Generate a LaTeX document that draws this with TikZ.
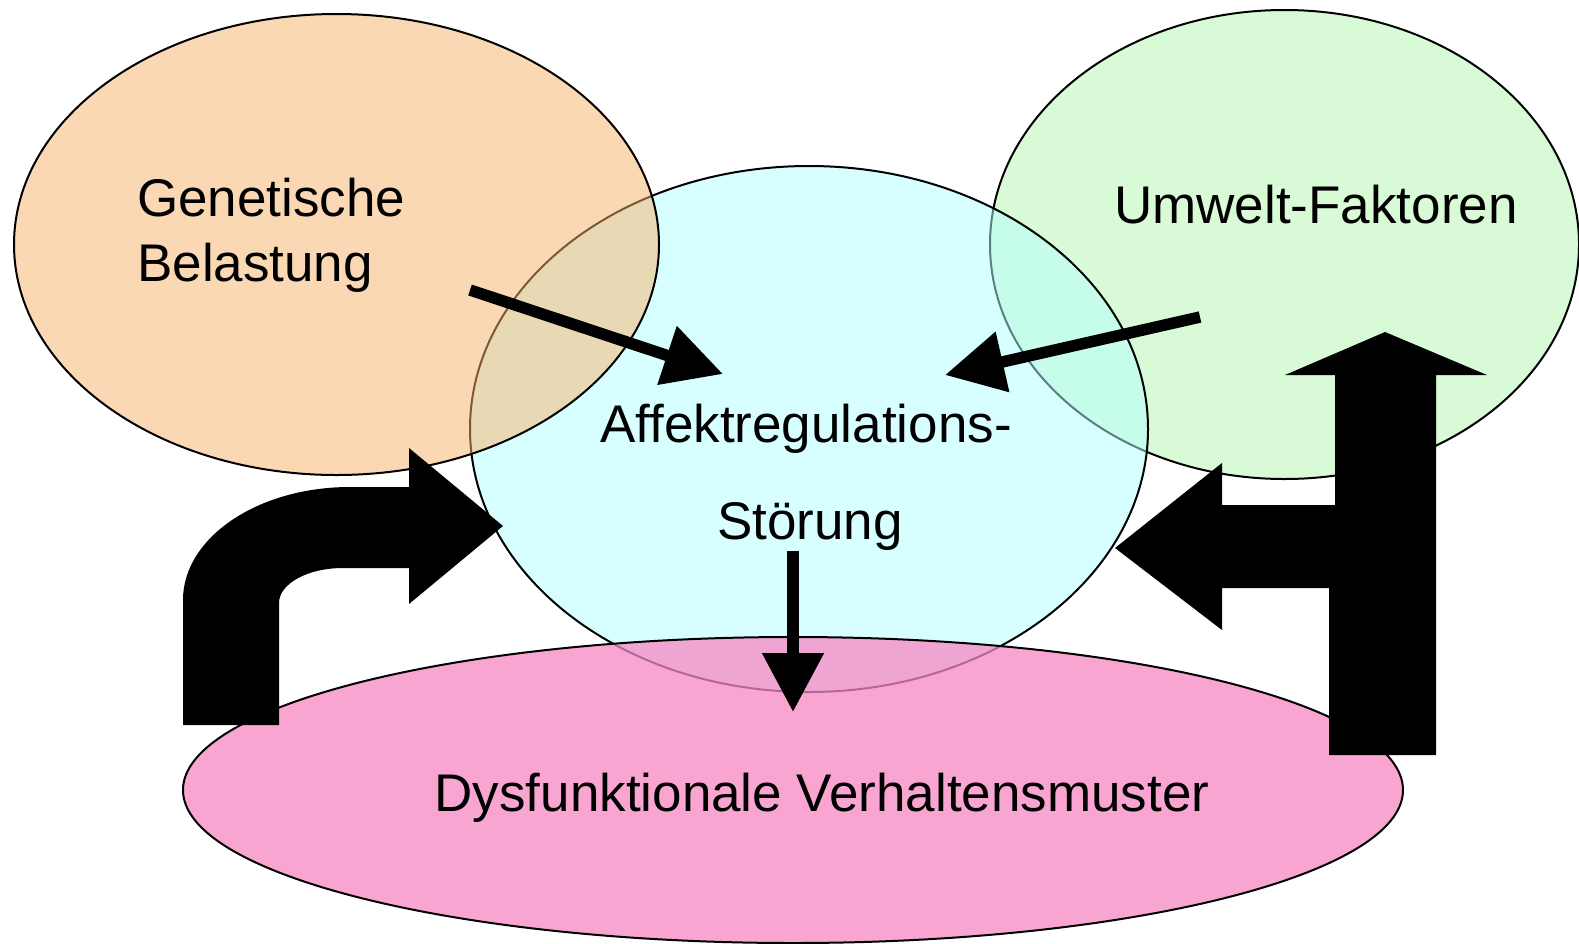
\documentclass[tikz,border=0pt]{standalone}
\usepackage{fontspec}
\setmainfont{Liberation Sans}
\usetikzlibrary{shapes.geometric,arrows.meta}
\definecolor{cCyan}{RGB}{179,255,255}
\definecolor{cOrange}{RGB}{249,179,107}
\definecolor{cGreen}{RGB}{216,250,214}
\definecolor{cPink}{RGB}{248,136,195}
\begin{document}
\begin{tikzpicture}[x=1pt,y=-1pt,
  blob/.style={ellipse, draw=black, line width=2pt, inner sep=0pt},
  lbl/.style={font=\fontsize{53}{60}\selectfont, inner sep=0pt, text=black},
  thinarrow/.style={line width=11.5pt, -{Triangle[length=59pt,width=59pt]}},
  bigarrow/.style={fill=black, draw=none}]
\useasboundingbox (0,0) rectangle (1579,943);
\fill[white] (0,0) rectangle (1579,943);
% ellipses (stacking order: green, cyan, orange, pink)
\node[blob, fill=cGreen, minimum width=589pt, minimum height=469pt] (umwelt) at (1284.5,244.5) {};
\node[blob, fill=cCyan, fill opacity=0.5, minimum width=678pt, minimum height=526pt] (affekt) at (809,429) {};
\node[blob, fill=cOrange, fill opacity=0.5, minimum width=645pt, minimum height=461pt] (gen) at (336.5,244.5) {};
\node[blob, fill=cPink, fill opacity=0.75, minimum width=1220pt, minimum height=306pt] (dys) at (793,790) {};
% labels
\node[lbl, anchor=base west] (t1) at (137,216) {Genetische};
\node[lbl, anchor=base west] (t2) at (137,281) {Belastung};
\node[lbl, anchor=base west] (t3) at (1114,223) {Umwelt-Faktoren};
\node[lbl, anchor=base] (t4) at (806,442) {Affektregulations-};
\node[lbl, anchor=base] (t5) at (810,539) {Störung};
\node[lbl, anchor=base] (t6) at (822,811) {Dysfunktionale Verhaltensmuster};
% thin arrows
\coordinate (g1) at (470,290);
\coordinate (g2) at (723,374);
\coordinate (u1) at (1200,317);
\coordinate (u2) at (945,375);
\coordinate (d1) at (793,551);
\coordinate (d2) at (793,712);
\draw[thinarrow] (g1) -- (g2);
\draw[thinarrow] (u1) -- (u2);
\draw[thinarrow] (d1) -- (d2);
% bent arrow (left)
\fill[bigarrow] (183,725) -- (183,600)
  .. controls (183,537.6) and (257.8,487) .. (350,487)
  -- (409,487) -- (409,448) -- (503,526) -- (409,604) -- (409,568) -- (343,568)
  .. controls (307.7,568) and (279,583.7) .. (279,603)
  -- (279,725) -- cycle;
% T-shaped arrow (right)
\fill[bigarrow] (1115,548) -- (1222,463) -- (1222,505) -- (1335,505) -- (1335,375)
  -- (1285,375) -- (1385,332) -- (1487,375) -- (1436,375) -- (1436,755)
  -- (1329,755) -- (1329,588) -- (1222,588) -- (1222,630) -- cycle;
\end{tikzpicture}
\end{document}
